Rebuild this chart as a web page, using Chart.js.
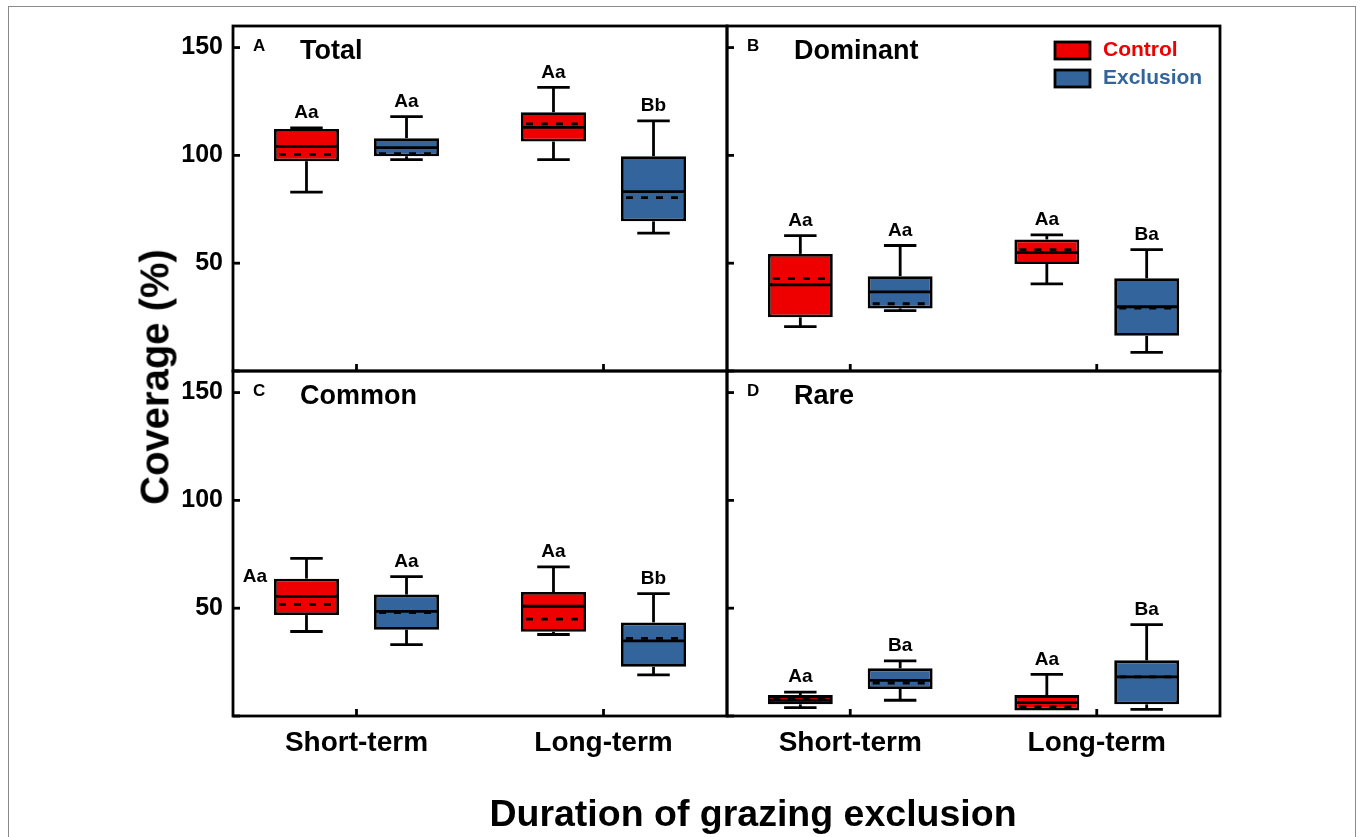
<!DOCTYPE html>
<html>
<head>
<meta charset="utf-8">
<script src="https://cdn.jsdelivr.net/npm/chart.js@4.4.1/dist/chart.umd.min.js"></script>
<style>
  body { margin: 0; background: #fff; width: 1360px; height: 837px; overflow: hidden; position: relative;
         font-family: "Liberation Sans", Arial, sans-serif; }
  canvas { position: absolute; left: 0; top: 0; }
  #frame { position: absolute; left: 8px; top: 6px; width: 1348px; height: 845px; border: 1px solid #8a8a8a; box-sizing: border-box; }
  .axis-title { position: absolute; font-weight: bold; color: #000; white-space: nowrap; }
  #ytitle { left: 155px; top: 377px; transform: translate(-50%, -50%) rotate(-90deg); font-size: 40px; }
  #xtitle { left: 753px; top: 813px; transform: translate(-50%, -50%); font-size: 37.5px; }
</style>
</head>
<body>
<div id="frame"></div>
<canvas id="chartA" width="1360" height="837"></canvas>
<canvas id="chartB" width="1360" height="837"></canvas>
<canvas id="chartC" width="1360" height="837"></canvas>
<canvas id="chartD" width="1360" height="837"></canvas>
<div class="axis-title" id="ytitle">Coverage (%)</div>
<div class="axis-title" id="xtitle">Duration of grazing exclusion</div>
<script>
// ===== DATA =====
const groups = ['Short-term', 'Long-term'];
const seriesNames = ['Control', 'Exclusion'];
const seriesColors = ['#ee0000', '#33659c'];
const yTicks = [0, 50, 100, 150];

// one box per group: [lower whisker, Q1, median, Q3, upper whisker, mean]
const totalControl = [[83, 97.3, 104.2, 112.2, 112.7, 100.5], [98, 106.4, 113, 120, 131.5, 114.6]];
const totalExclusion = [[98, 99.6, 103.6, 108, 118, 100.8], [63.9, 69.4, 83.2, 99.6, 116, 80.4]];
const dominantControl = [[20.6, 24.9, 40, 54.3, 62.8, 42.8], [40.4, 49.6, 54.9, 61, 63.1, 56.3]];
const dominantExclusion = [[28, 29, 36.7, 44, 58.2, 31.2], [8.6, 16.3, 29.8, 43, 56.3, 29.2]];
const commonControl = [[39.2, 46.8, 55.5, 63.7, 73.1, 51.8], [37.8, 39.1, 50.9, 57.5, 69.2, 44.9]];
const commonExclusion = [[33.1, 40, 48.5, 56.3, 64.6, 48], [19.1, 22.8, 34.8, 43.4, 56.8, 36]];
const rareControl = [[3.9, 5.4, 7.3, 9.7, 11.1, 8], [2.5, 2.5, 6.2, 9.7, 19.3, 4.3]];
const rareExclusion = [[7.3, 12.5, 16.5, 22.1, 25.6, 15.3], [3.1, 5.4, 18.1, 25.8, 42.4, 18.1]];

// significance letters: [Control by group, Exclusion by group]
const totalLetters = [['Aa', 'Aa'], ['Aa', 'Bb']];
const dominantLetters = [['Aa', 'Aa'], ['Aa', 'Ba']];
const commonLetters = [['Aa', 'Aa'], ['Aa', 'Bb']];
const rareLetters = [['Aa', 'Aa'], ['Ba', 'Ba']];

// ===== PANELS =====
const FONT = '"Liberation Sans", Arial, sans-serif';
const AXIS_W = 60, AXIS_H = 60;
const LW = 2.8;

const panels = [
  { id: 'chartA', letter: 'A', title: 'Total', stats: [totalControl, totalExclusion], letters: totalLetters,
    rect: [233, 26, 727, 371], yLabels: true, xLabels: false },
  { id: 'chartB', letter: 'B', title: 'Dominant', stats: [dominantControl, dominantExclusion], letters: dominantLetters,
    rect: [727, 26, 1220, 371], yLabels: false, xLabels: false, legend: true },
  { id: 'chartC', letter: 'C', title: 'Common', stats: [commonControl, commonExclusion], letters: commonLetters,
    rect: [233, 371, 727, 716], yLabels: true, xLabels: true, beside: [0, 0] },
  { id: 'chartD', letter: 'D', title: 'Rare', stats: [rareControl, rareExclusion], letters: rareLetters,
    rect: [727, 371, 1220, 716], yLabels: false, xLabels: true }
];

function line(ctx, x1, y1, x2, y2) {
  ctx.beginPath();
  ctx.moveTo(x1, y1);
  ctx.lineTo(x2, y2);
  ctx.stroke();
}

// whiskers, median, mean, letters, frame, inward ticks, panel title, legend
const boxDecor = {
  id: 'boxDecor',
  afterDatasetsDraw(chart, args, opts) {
    const ctx = chart.ctx;
    const ys = chart.scales.y, xs = chart.scales.x;
    const area = chart.chartArea;
    ctx.save();
    ctx.strokeStyle = '#000';
    ctx.fillStyle = '#000';
    ctx.lineWidth = LW;

    chart.data.datasets.forEach((ds, si) => {
      chart.getDatasetMeta(si).data.forEach((bar, gi) => {
        const [lo, q1, med, q3, hi, mean] = ds.stats[gi];
        const x = bar.x, half = bar.width / 2 - 1, cap = bar.width * 0.25;
        const pLo = ys.getPixelForValue(lo), pQ1 = ys.getPixelForValue(q1);
        const pMed = ys.getPixelForValue(med), pQ3 = ys.getPixelForValue(q3);
        const pHi = ys.getPixelForValue(hi), pMean = ys.getPixelForValue(mean);

        if (pQ3 - pHi > 1) line(ctx, x, pQ3, x, pHi);
        line(ctx, x - cap, pHi, x + cap, pHi);
        if (pLo - pQ1 > 1) {
          line(ctx, x, pQ1, x, pLo);
          line(ctx, x - cap, pLo, x + cap, pLo);
        }
        line(ctx, x - half, pMed, x + half, pMed);
        ctx.setLineDash([7, 8]);
        ctx.lineDashOffset = -4;
        line(ctx, x - half, pMean, x + half, pMean);
        ctx.setLineDash([]);

        ctx.font = 'bold 19px ' + FONT;
        ctx.textBaseline = 'middle';
        const b = opts.beside;
        if (b && b[0] === si && b[1] === gi) {
          ctx.textAlign = 'right';
          ctx.fillText(ds.letters[gi], x - bar.width / 2 - 7, pQ3 - 2);
        } else {
          ctx.textAlign = 'center';
          ctx.fillText(ds.letters[gi], x, pHi - 15);
        }
      });
    });

    // frame
    ctx.lineWidth = LW;
    ctx.strokeRect(area.left, area.top, area.right - area.left, area.bottom - area.top);
    // inward ticks
    yTicks.forEach(v => {
      const py = ys.getPixelForValue(v);
      line(ctx, area.left, py, area.left + 7, py);
    });
    groups.forEach((g, i) => {
      const px = xs.getPixelForValue(i);
      line(ctx, px, area.bottom, px, area.bottom - 7);
    });

    // panel letter and title
    ctx.textAlign = 'left';
    ctx.textBaseline = 'middle';
    ctx.font = 'bold 17px ' + FONT;
    ctx.fillText(opts.letter, area.left + 20, area.top + 20);
    ctx.font = 'bold 27px ' + FONT;
    ctx.fillText(opts.title, area.left + 67, area.top + 26);

    // legend
    if (opts.legend) {
      chart.data.datasets.forEach((ds, si) => {
        const bx = area.right - 165, by = area.top + 16 + si * 28;
        ctx.fillStyle = ds.backgroundColor;
        ctx.fillRect(bx, by, 35, 17);
        ctx.strokeStyle = '#000';
        ctx.strokeRect(bx, by, 35, 17);
        ctx.font = 'bold 21px ' + FONT;
        ctx.fillText(ds.label, bx + 48, by + 8.5);
      });
    }
    ctx.restore();
  }
};

panels.forEach(p => {
  const [x0, y0, x1, y1] = p.rect;
  new Chart(document.getElementById(p.id), {
    type: 'bar',
    data: {
      labels: groups,
      datasets: seriesNames.map((name, si) => ({
        label: name,
        data: p.stats[si].map(s => [s[1], s[3]]),
        stats: p.stats[si],
        letters: p.letters[si],
        backgroundColor: seriesColors[si],
        borderColor: '#000',
        borderWidth: LW,
        borderSkipped: false,
        categoryPercentage: 0.81,
        barPercentage: 0.65
      }))
    },
    options: {
      responsive: false,
      animation: false,
      layout: { padding: { left: x0 - AXIS_W, top: y0, right: 1360 - x1, bottom: 837 - y1 - AXIS_H } },
      scales: {
        x: {
          type: 'category',
          grid: { display: false, drawTicks: false },
          border: { display: false },
          ticks: { display: p.xLabels, color: '#000', padding: 10, font: { family: FONT, size: 28, weight: 'bold' } },
          afterFit: s => { s.height = AXIS_H; }
        },
        y: {
          min: 0,
          max: 160,
          grid: { display: false, drawTicks: false },
          border: { display: false },
          afterBuildTicks: s => { s.ticks = yTicks.map(v => ({ value: v })); },
          ticks: { display: p.yLabels, color: '#000', padding: 10, font: { family: FONT, size: 25, weight: 'bold' },
                   callback: v => (v === 0 ? '' : v) },
          afterFit: s => { s.width = AXIS_W; }
        }
      },
      plugins: {
        legend: { display: false },
        tooltip: { enabled: false },
        boxDecor: { letter: p.letter, title: p.title, legend: !!p.legend, beside: p.beside }
      }
    },
    plugins: [boxDecor]
  });
});
</script>
</body>
</html>
